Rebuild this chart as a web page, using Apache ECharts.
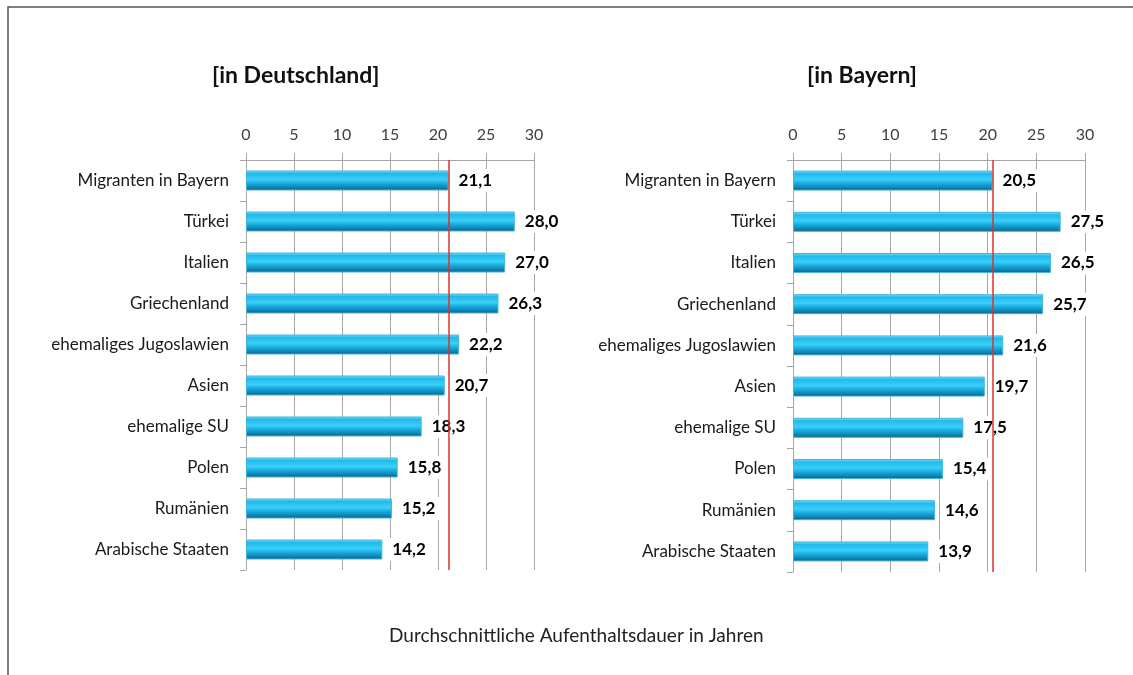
<!DOCTYPE html>
<html>
<head>
<meta charset="utf-8">
<script src="https://cdn.jsdelivr.net/npm/echarts@6/dist/echarts.min.js"></script>
<style>
  html, body { margin: 0; padding: 0; background: #fff; }
  #main { width: 1133px; height: 675px; }
</style>
</head>
<body>
<div id="main"></div>
<script>
const categories = ['Migranten in Bayern', 'Türkei', 'Italien', 'Griechenland', 'ehemaliges Jugoslawien',
  'Asien', 'ehemalige SU', 'Polen', 'Rumänien', 'Arabische Staaten'];
const deutschland = [21.1, 28.0, 27.0, 26.3, 22.2, 20.7, 18.3, 15.8, 15.2, 14.2];
const bayern = [20.5, 27.5, 26.5, 25.7, 21.6, 19.7, 17.5, 15.4, 14.6, 13.9];
const xTicks = [0, 30, 5]; // min, max, interval

const font = 'Lato, "Open Sans", sans-serif';

const barColor = new echarts.graphic.LinearGradient(0, 0, 0, 1, [
  { offset: 0, color: '#8be3fb' },
  { offset: 0.15, color: '#1fbaec' },
  { offset: 0.45, color: '#3ccff7' },
  { offset: 0.62, color: '#1bb0e3' },
  { offset: 0.85, color: '#0f84b2' },
  { offset: 1, color: '#0a5b7c' }
]);

function xAxis(gridIndex) {
  return {
    gridIndex: gridIndex,
    type: 'value',
    position: 'top',
    min: xTicks[0], max: xTicks[1], interval: xTicks[2],
    axisLine: { show: true, lineStyle: { color: '#a6a6a6' } },
    axisTick: { show: true, length: 7, lineStyle: { color: '#a6a6a6' } },
    splitLine: { show: true, lineStyle: { color: '#a6a6a6' } },
    axisLabel: { fontFamily: font, fontSize: 16, color: '#404040', margin: 17 }
  };
}

function yAxis(gridIndex) {
  return {
    gridIndex: gridIndex,
    type: 'category',
    inverse: true,
    data: categories,
    axisLine: { show: true, lineStyle: { color: '#a6a6a6' } },
    axisTick: { show: true, length: 6, lineStyle: { color: '#a6a6a6' } },
    axisLabel: { fontFamily: font, fontSize: 17, color: '#1a1a1a', margin: 17 }
  };
}

function barSeries(idx, data) {
  return {
    type: 'bar',
    xAxisIndex: idx, yAxisIndex: idx,
    data: data,
    barWidth: 20,
    itemStyle: { color: barColor, borderColor: '#46b4dc', borderWidth: 1 },
    label: {
      show: true,
      position: 'right',
      distance: 6,
      fontFamily: font,
      fontWeight: 'bold',
      fontSize: 17,
      color: '#000',
      backgroundColor: '#fff',
      padding: [3, 4],
      formatter: p => p.value.toFixed(1).replace('.', ',')
    },
    markLine: {
      silent: true,
      symbol: 'none',
      label: { show: false },
      lineStyle: { color: '#d9342b', width: 1.5, type: 'solid' },
      data: [{ xAxis: data[0] }],
      z: 10
    },
    z: 3
  };
}

const chart = echarts.init(document.getElementById('main'));
chart.setOption({
  backgroundColor: '#fff',
  animation: false,
  title: [
    { text: '[in Deutschland]', left: 207, top: 59,
      textStyle: { fontFamily: font, fontSize: 23, fontWeight: 'bold', color: '#111' } },
    { text: '[in Bayern]', left: 802, top: 59,
      textStyle: { fontFamily: font, fontSize: 23, fontWeight: 'bold', color: '#111' } },
    { text: 'Durchschnittliche Aufenthaltsdauer in Jahren', left: 384, top: 621,
      textStyle: { fontFamily: font, fontSize: 19, fontWeight: 'normal', color: '#222' } }
  ],
  grid: [
    { left: 246, width: 288, top: 160, height: 410 },
    { left: 793, width: 292, top: 160, height: 412 }
  ],
  xAxis: [xAxis(0), xAxis(1)],
  yAxis: [yAxis(0), yAxis(1)],
  series: [barSeries(0, deutschland), barSeries(1, bayern)],
  graphic: [
    { type: 'polyline', shape: { points: [[8, 675], [8, 7], [1133, 7]] },
      style: { stroke: '#555', lineWidth: 1.5, fill: null } }
  ]
});
</script>
</body>
</html>
